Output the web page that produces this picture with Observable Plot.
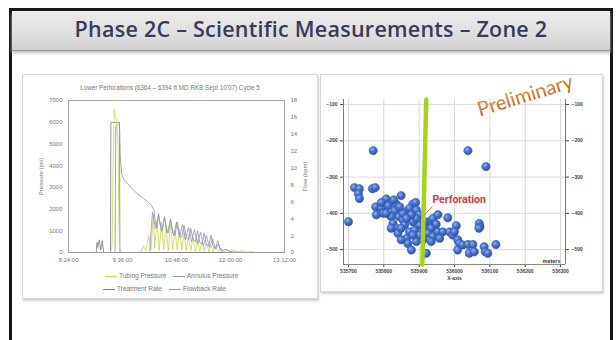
<!DOCTYPE html>
<html><head><meta charset="utf-8">
<script src="https://cdn.jsdelivr.net/npm/d3@7"></script>
<script src="https://cdn.jsdelivr.net/npm/@observablehq/plot@0.6"></script>
<style>
html,body{margin:0;padding:0;background:#fff;width:616px;height:340px;overflow:hidden;font-family:"Open Sans",sans-serif}
#frame{position:absolute;left:9px;top:8px;width:604px;height:345px;border:3px solid #161616;box-sizing:border-box;background:#fff}
#titlebar{position:absolute;left:0;top:0;right:0;height:39px;background:linear-gradient(#ececec,#dcdcdc 70%,#cfcfcf);border-bottom:1px solid #9a9a9a;box-shadow:0 2px 3px #bbb}
#title{position:absolute;left:0;right:0;top:3px;text-align:center;font-family:"Open Sans";font-weight:600;font-size:21.5px;color:#3a3b5c;letter-spacing:0.25px}
.panel{position:absolute;background:#fff;border:1px solid #d6d6d6;box-shadow:1px 2px 2px #d0d0d0}
#ctitle{position:absolute;left:0;right:0;top:9px;text-align:center;font-size:6.3px;color:#777;font-family:"Liberation Sans"}
.leg{position:absolute;font-size:6.5px;color:#777;font-family:"Liberation Sans";white-space:nowrap}
.leg i{display:inline-block;width:12px;height:0;border-top:1px solid;vertical-align:middle;margin-right:2px}
</style></head>
<body>
<div id="frame"><div id="titlebar"><div id="title">Phase 2C – Scientific Measurements – Zone 2</div></div></div>
<div class="panel" id="left" style="left:22px;top:74px;width:294px;height:223px"><div id="ctitle"></div></div>
<div class="panel" id="right" style="left:320px;top:74px;width:281px;height:216px"></div>
<script>
// ---------- Left chart data ----------
const chartTitle = "Lower Perforations (6364 – 6394 ft MD RKB Sept 10'07) Cycle 5";
const timeTicks = [504, 576, 648, 720, 792]; // minutes after midnight
const pressureTicks = [0, 1000, 2000, 3000, 4000, 5000, 6000, 7000];
const flowTicks = [0, 2, 4, 6, 8, 10, 12, 14, 16, 18];
const seriesNames = ["Tubing Pressure", "Annulus Pressure", "Treatment Rate", "Flowback Rate"];
const seriesColors = ["#cbd64a", "#9a9aa8", "#7c7c7c", "#9393cc"];

// Tubing Pressure [minute, psi]
const tubingPressure = [[504,0],[560,0],[562,300],[563.5,4000],[565,6600],[566.5,6300],[568,6100],[570,5000],[571,2000],[572,200],[575,0],[600,0],[604,300],[607,50],[611,800],[614,100],[617,1750],[619,200],[622,1500],[625,100],[628,1400],[631,150],[634,1200],[637,100],[640,1300],[643,150],[646,1000],[649,100],[652,1100],[655,100],[658,900],[661,80],[664,800],[667,80],[670,700],[673,60],[676,600],[679,50],[682,500],[685,50],[688,450],[691,40],[694,350],[697,40],[700,300],[704,30],[708,200],[712,20],[716,150],[720,20],[725,120],[730,10],[736,90],[742,10],[748,60],[752,0],[792,0]];
// Annulus Pressure [minute, psi]
const annulusPressure = [[504,0],[566,0],[567,5800],[572,5950],[573,4400],[575,3600],[578,3350],[582,3200],[587,3000],[592,2820],[598,2650],[604,2480],[610,2330],[615,2150],[618,1950],[620,1300],[622,1150],[624,1800],[627,1150],[629,1000],[632,1650],[635,1000],[637,900],[640,1550],[643,900],[646,800],[649,1400],[652,800],[655,700],[658,1250],[661,700],[664,600],[667,1100],[670,600],[673,500],[676,1000],[679,450],[682,400],[685,900],[688,350],[691,300],[694,800],[697,250],[700,200],[703,550],[706,150],[710,100],[714,150],[718,50],[725,20],[740,0],[792,0]];
// Treatment Rate [minute, bpm]
const treatmentRate = [[504,0],[541,0],[542,1.2],[543,0.6],[545,1.5],[547,0.3],[549,1.4],[551,0],[560,0],[560.5,15.4],[572,15.4],[572.5,0],[792,0]];
// Flowback Rate [minute, bpm]
const flowbackRate = [[504,0],[612,0],[616,4.8],[620,2.8],[624,4.4],[628,2.5],[632,4.1],[636,2.3],[640,3.9],[644,2.0],[648,3.6],[652,1.8],[656,3.3],[660,1.5],[664,3.0],[668,1.3],[672,2.7],[676,1.0],[680,2.4],[684,0.8],[688,2.0],[692,0.6],[696,1.6],[700,0.4],[704,1.0],[708,0.1],[712,0],[792,0]];

// ---------- Right chart data ----------
const eastTicks = [535700, 535800, 535900, 536000, 536100, 536200, 536300];
const depthTicks = [-100, -200, -300, -400, -500];
const eventX = [535770,536038,536089,535717,535731,535728,535731,535768,535776,535700,535777,535793,535807,535812,535835,535849,535831,535779,535798,535821,535843,535864,535882,535890,535873,535892,535901,535854,535826,535835,535840,535859,535873,535864,535868,535892,535878,535887,535901,535911,535920,535929,535939,535953,535948,535934,535925,535939,535934,535953,535967,535920,535981,536005,535986,535995,536009,536014,536009,536023,536038,536052,536042,536056,536070,536072,536069,536084,536087,536094,536117,535915,535849,535882,535807,535892,535854,535821,535911,535878,535901,535845,535828,535793,535958,536000,535864,535882,535849];
const eventY = [-227,-227,-271,-329,-332,-346,-359,-332,-329,-423,-382,-384,-360,-379,-375,-351,-393,-404,-400,-409,-409,-395,-375,-370,-386,-391,-404,-418,-428,-441,-455,-432,-451,-469,-483,-478,-501,-446,-432,-451,-432,-423,-414,-404,-430,-441,-455,-464,-478,-451,-451,-510,-412,-434,-451,-460,-473,-483,-501,-487,-486,-486,-510,-506,-428,-437,-441,-492,-506,-510,-486,-423,-441,-423,-400,-414,-400,-441,-473,-404,-460,-382,-363,-370,-469,-451,-414,-460,-473];
const perfX = [535920, 535909];
const perfY = [-86, -541];
const arrowX = [535937, 535914];
const arrowY = [-382, -404];
const perfLabel = {x: 536013, y: -362, text: "Perforation"};
const unitLabel = {x: 536300, y: -531, text: "meters"};
const stamp = {x: 536200, y: -76, text: "Preliminary"};

// ---------- Left chart ----------
document.getElementById("ctitle").textContent = chartTitle;
const k = 7000 / 18;
const fmtTime = t => `${Math.floor(t/60)}:${String(t%60).padStart(2,"0")}:00`;
const toRows = (arr, scale) => arr.map(([t, v]) => ({t, v: v * scale}));
const lineData = [
  toRows(tubingPressure, 1), toRows(annulusPressure, 1),
  toRows(treatmentRate, k), toRows(flowbackRate, k)
];
const leftPlot = Plot.plot({
  width: 294, height: 200,
  marginLeft: 45, marginRight: 33, marginTop: 25, marginBottom: 23,
  x: {domain: [504, 792]},
  y: {domain: [0, 7000]},
  style: {fontSize: "6px", fontFamily: "Liberation Sans", color: "#777", background: "transparent"},
  marks: [
    Plot.frame({stroke: "#a8a8a8"}),
    Plot.axisX(timeTicks, {tickFormat: fmtTime, tickSize: 0, tickPadding: 5, label: null}),
    Plot.axisY(pressureTicks, {tickFormat: d => String(d), tickSize: 0, tickPadding: 6, label: "Pressure (psi)", labelAnchor: "center", labelArrow: "none", labelOffset: 30}),
    Plot.axisY(flowTicks.map(v => v * k), {anchor: "right", tickFormat: d => String(Math.round(d / k)), tickSize: 0, tickPadding: 6, label: "Flow (bpm)", labelAnchor: "center", labelArrow: "none", labelOffset: 22}),
    Plot.line(lineData[2], {x: "t", y: "v", stroke: seriesColors[2], strokeWidth: 0.8}),
    Plot.line(lineData[0], {x: "t", y: "v", stroke: seriesColors[0], strokeWidth: 0.8}),
    Plot.line(lineData[3], {x: "t", y: "v", stroke: seriesColors[3], strokeWidth: 0.8}),
    Plot.line(lineData[1], {x: "t", y: "v", stroke: seriesColors[1], strokeWidth: 0.9})
  ]
});
leftPlot.style.position = "absolute"; leftPlot.style.left = "0px"; leftPlot.style.top = "0px";
const leftPanel = document.getElementById("left");
leftPanel.appendChild(leftPlot);
const legPos = [[82, 197], [150, 197], [80, 210], [146, 210]];
seriesNames.forEach((n, i) => {
  const d = document.createElement("div");
  d.className = "leg";
  d.style.left = legPos[i][0] + "px"; d.style.top = legPos[i][1] + "px";
  d.innerHTML = `<i style="border-color:${seriesColors[i]}"></i>${n}`;
  leftPanel.appendChild(d);
});

// ---------- Right chart ----------
const events = eventX.map((x, i) => ({x, y: eventY[i]}));
const rightPlot = Plot.plot({
  width: 280, height: 216,
  marginLeft: 22, marginRight: 36, marginTop: 24, marginBottom: 27,
  x: {domain: [535686, 536314]},
  y: {domain: [-541, -86]},
  style: {fontSize: "5px", fontFamily: "Liberation Sans", color: "#444", background: "transparent", overflow: "visible"},
  marks: [
    Plot.gridX(eastTicks, {stroke: "#d8d8d8", strokeOpacity: 1}),
    Plot.gridY(depthTicks, {stroke: "#dcdcdc", strokeOpacity: 1}),
    Plot.axisX(eastTicks, {tickSize: 3, tickPadding: 2, tickFormat: d => String(d), fontWeight: "bold", label: "X-axis", labelAnchor: "center", labelArrow: "none", labelOffset: 15}),
    Plot.axisY(depthTicks, {tickSize: 3, tickPadding: 3, fontWeight: "bold", label: null}),
    Plot.axisY(depthTicks, {anchor: "right", tickSize: 3, tickPadding: 3, fontWeight: "bold", label: null}),
    Plot.ruleX([535686, 536314], {stroke: "#777", strokeWidth: 1}),
    Plot.ruleY([-541], {stroke: "#888"}),
    Plot.dot(events, {x: "x", y: "y", r: 4.2, fill: "url(#ball)", stroke: "#3559a8", strokeWidth: 0.5}),
    Plot.line(perfX.map((x, i) => ({x, y: perfY[i]})), {x: "x", y: "y", stroke: "#a6d21e", strokeWidth: 4.5}),
    Plot.line(arrowX.map((x, i) => ({x, y: arrowY[i]})), {x: "x", y: "y", stroke: "#c48a3c", strokeWidth: 1}),
    Plot.text([perfLabel], {x: "x", y: "y", text: "text", fill: "#e5333f", fontSize: 10.5, fontWeight: "bold", fontFamily: "Liberation Sans Narrow, Roboto, sans-serif"}),
    Plot.text([unitLabel], {x: "x", y: "y", text: "text", fill: "#333", fontSize: 5.5, fontWeight: "bold", textAnchor: "end"}),
    Plot.text([stamp], {x: "x", y: "y", text: "text", fill: "url(#prelim)", fontSize: 20, rotate: -17, fontFamily: "Lato", stroke: "#fff", strokeWidth: 0.01})
  ]
});
rightPlot.insertAdjacentHTML("afterbegin", `<defs>
<radialGradient id="ball" cx="0.38" cy="0.35" r="0.7"><stop offset="0" stop-color="#8fb0f0"/><stop offset="0.45" stop-color="#4673cf"/><stop offset="1" stop-color="#2a4fa0"/></radialGradient>
<linearGradient id="prelim" x1="0" y1="0" x2="0" y2="1"><stop offset="0" stop-color="#eaa458"/><stop offset="1" stop-color="#b85a14"/></linearGradient>
</defs>`);
rightPlot.style.position = "absolute"; rightPlot.style.left = "0px"; rightPlot.style.top = "0px";
document.getElementById("right").appendChild(rightPlot);
</script>
</body></html>
